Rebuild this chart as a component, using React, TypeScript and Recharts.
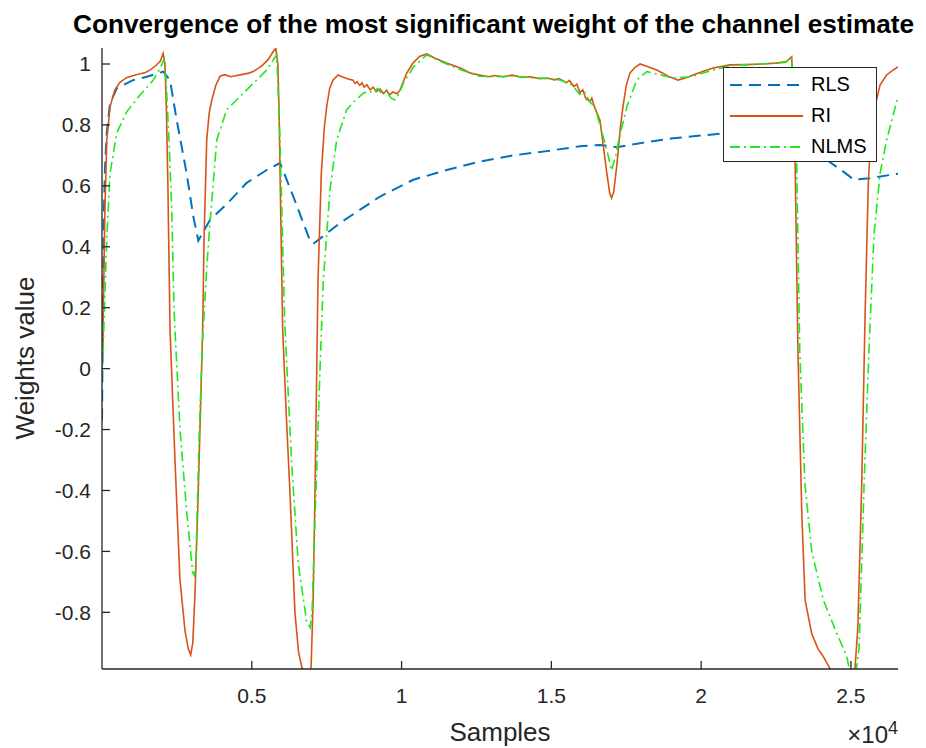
import { LineChart, Line, XAxis, YAxis, Legend } from 'recharts'

// [sample, weight] pairs
const rlsCurve: [number, number][] = [
  [0, -0.17], [30, 0.2], [60, 0.5], [100, 0.66], [157, 0.773], [267, 0.87], [490, 0.92],
  [1035, 0.947], [1492, 0.958], [2046, 0.975], [2270, 0.947], [2493, 0.816], [2827, 0.64],
  [3047, 0.5], [3215, 0.42], [3605, 0.488], [4162, 0.54], [4830, 0.61], [5497, 0.652],
  [5942, 0.675], [6387, 0.565], [6943, 0.42], [7054, 0.41], [7945, 0.478], [9280, 0.565],
  [10392, 0.62], [11506, 0.652], [12618, 0.68], [13731, 0.7], [14844, 0.714], [15956, 0.73],
  [16623, 0.734], [16957, 0.73], [17180, 0.727], [17958, 0.74], [19060, 0.756], [20185, 0.767],
  [21297, 0.778], [22410, 0.788], [23022, 0.795], [23590, 0.74], [24267, 0.68], [24768, 0.645],
  [25102, 0.62], [25636, 0.625], [26570, 0.64],
]

const riCurve: [number, number][] = [
  [0, -0.02], [45, 0.2], [100, 0.53], [160, 0.75], [270, 0.86], [430, 0.915], [600, 0.94],
  [820, 0.955], [1050, 0.962], [1270, 0.968], [1450, 0.972], [1600, 0.98], [1800, 0.995],
  [1950, 1.01], [2040, 1.035], [2100, 1.0], [2150, 0.85], [2200, 0.6], [2270, 0.13],
  [2440, -0.31], [2600, -0.69], [2770, -0.86], [2880, -0.92], [2960, -0.94], [3030, -0.9],
  [3100, -0.75], [3200, -0.45], [3270, -0.2], [3360, 0.13], [3405, 0.42], [3495, 0.75],
  [3580, 0.84], [3660, 0.88], [3800, 0.93], [3940, 0.96], [4100, 0.965], [4300, 0.958],
  [4500, 0.962], [4700, 0.966], [4900, 0.97], [5050, 0.975], [5200, 0.985], [5370, 0.997],
  [5550, 1.015], [5710, 1.04], [5800, 1.052], [5870, 1.0], [5910, 0.85], [5950, 0.6],
  [6030, 0.13], [6150, -0.15], [6280, -0.42], [6440, -0.8], [6560, -0.93], [6670, -0.98],
  [6780, -1.0], [6900, -1.0], [6980, -0.98], [7050, -0.75], [7110, -0.4], [7210, 0.29],
  [7320, 0.64], [7420, 0.79], [7500, 0.86], [7600, 0.92], [7710, 0.947], [7880, 0.964],
  [8000, 0.958], [8100, 0.955], [8250, 0.95], [8380, 0.947], [8450, 0.936], [8520, 0.942],
  [8600, 0.93], [8680, 0.938], [8750, 0.924], [8840, 0.932], [8950, 0.915], [9050, 0.924],
  [9150, 0.909], [9280, 0.918], [9400, 0.903], [9500, 0.914], [9600, 0.899], [9710, 0.908],
  [9850, 0.902], [9950, 0.915], [10070, 0.945], [10170, 0.97], [10380, 1.003], [10600, 1.025],
  [10840, 1.033], [11100, 1.02], [11500, 1.003], [12000, 0.985], [12300, 0.97], [12600, 0.964],
  [12900, 0.958], [13100, 0.962], [13400, 0.958], [13700, 0.964], [14000, 0.956], [14300, 0.958],
  [14600, 0.952], [14850, 0.954], [15100, 0.948], [15250, 0.952], [15400, 0.944], [15500, 0.938],
  [15600, 0.946], [15750, 0.926], [15850, 0.934], [15950, 0.906], [16050, 0.915], [16150, 0.886],
  [16290, 0.877], [16350, 0.888], [16450, 0.856], [16620, 0.816], [16750, 0.72], [16850, 0.642],
  [16950, 0.575], [17010, 0.56], [17080, 0.58], [17180, 0.663], [17300, 0.79], [17390, 0.86],
  [17500, 0.93], [17620, 0.97], [17800, 0.99], [17960, 1.0], [18200, 0.992], [18520, 0.98],
  [18900, 0.96], [19230, 0.947], [19500, 0.955], [19730, 0.964], [20050, 0.975], [20400, 0.987],
  [20960, 0.997], [21500, 0.998], [22000, 1.0], [22500, 1.003], [22850, 1.008], [23020, 1.024],
  [23080, 0.9], [23130, 0.718], [23230, 0.06], [23360, -0.48], [23470, -0.76], [23690, -0.87],
  [23900, -0.92], [24070, -0.944], [24300, -0.985], [24600, -1.01], [24900, -1.02], [25130, -0.99],
  [25230, -0.85], [25360, -0.375], [25470, 0.17], [25580, 0.61], [25640, 0.718], [25800, 0.86],
  [25970, 0.931], [26190, 0.964], [26400, 0.98], [26570, 0.99],
]

const nlmsCurve: [number, number][] = [
  [0, -0.01], [50, 0.1], [100, 0.25], [157, 0.42], [267, 0.64], [490, 0.773], [824, 0.843],
  [1268, 0.898], [1712, 0.947], [1936, 0.985], [2070, 1.015], [2136, 0.95], [2236, 0.75],
  [2326, 0.53], [2403, 0.2], [2440, 0.12], [2604, -0.2], [2827, -0.47], [3027, -0.67],
  [3088, -0.68], [3138, -0.62], [3248, -0.2], [3361, 0.1], [3495, 0.33], [3605, 0.478],
  [3829, 0.75], [4162, 0.85], [4830, 0.915], [5497, 0.98], [5830, 1.03], [5942, 0.75],
  [6100, 0.15], [6330, -0.31], [6550, -0.64], [6830, -0.83], [6950, -0.85], [7010, -0.8],
  [7143, -0.4], [7277, 0.0], [7387, 0.29], [7610, 0.587], [7833, 0.75], [8167, 0.85],
  [8450, 0.88], [8722, 0.904], [8900, 0.912], [9050, 0.905], [9200, 0.92], [9350, 0.9],
  [9500, 0.91], [9650, 0.888], [9780, 0.882], [9900, 0.9], [10060, 0.937], [10390, 0.99],
  [10840, 1.03], [11500, 1.0], [12000, 0.98], [12600, 0.96], [13100, 0.958], [13700, 0.96],
  [14300, 0.955], [14850, 0.952], [15250, 0.948], [15500, 0.94], [15700, 0.93], [15950, 0.9],
  [16100, 0.91], [16290, 0.875], [16450, 0.86], [16620, 0.8], [16850, 0.718], [17010, 0.65],
  [17150, 0.7], [17250, 0.75], [17520, 0.86], [17850, 0.947], [18185, 0.975], [19060, 0.954],
  [19630, 0.958], [20400, 0.98], [21000, 0.995], [22000, 1.0], [22800, 1.005], [23020, 1.02],
  [23100, 0.9], [23180, 0.718], [23290, 0.06], [23460, -0.375], [23690, -0.6], [24080, -0.76],
  [24530, -0.87], [24860, -0.944], [24950, -0.99], [25100, -1.0], [25190, -0.98], [25270, -0.92],
  [25440, -0.375], [25600, 0.06], [25770, 0.44], [25970, 0.64], [26190, 0.75], [26570, 0.893],
]

const xTicks = [5000, 10000, 15000, 20000, 25000]
const xTickLabels = ['0.5', '1', '1.5', '2', '2.5']
const yTicks = [-0.8, -0.6, -0.4, -0.2, 0, 0.2, 0.4, 0.6, 0.8, 1]
const yTickLabels = ['-0.8', '-0.6', '-0.4', '-0.2', '0', '0.2', '0.4', '0.6', '0.8', '1']

const seriesNames = ['RLS', 'RI', 'NLMS']
const seriesColors = ['#0072BD', '#D95319', '#1ee81e']
const seriesDashes = ['12 7', '', '10 4 2 4']

const FONT = '"Liberation Sans", Arial, Helvetica, sans-serif'
const INK = '#262626'
const TICK_LEN = 8
const X_DOMAIN: [number, number] = [0, 26570]
const Y_DOMAIN: [number, number] = [-0.986, 1.0525]

const toPoints = (curve: [number, number][]) => curve.map(([s, v]) => ({ s, v }))
const curves = [rlsCurve, riCurve, nlmsCurve].map(toPoints)

// ticks point inwards like matlab's box axes
const BottomTick = ({ x, y, payload }: any) => (
  <g>
    <line x1={x} x2={x} y1={y} y2={y - TICK_LEN} stroke={INK} strokeWidth={1.3} />
    <text x={x} y={y + 34} textAnchor="middle" fill={INK} fontSize={21} fontFamily={FONT}>
      {xTickLabels[xTicks.indexOf(payload.value)]}
    </text>
  </g>
)
const TopTick = ({ x, y }: any) => (
  <line x1={x} x2={x} y1={y} y2={y + TICK_LEN} stroke={INK} strokeWidth={1.3} />
)
const LeftTick = ({ x, y, payload }: any) => (
  <g>
    <line x1={x} x2={x + TICK_LEN} y1={y} y2={y} stroke={INK} strokeWidth={1.3} />
    <text x={x - 11} y={y + 7.5} textAnchor="end" fill={INK} fontSize={21} fontFamily={FONT}>
      {yTickLabels[yTicks.indexOf(payload.value)]}
    </text>
  </g>
)
const RightTick = ({ x, y }: any) => (
  <line x1={x} x2={x - TICK_LEN} y1={y} y2={y} stroke={INK} strokeWidth={1.3} />
)

const renderLegend = () => (
  <div
    style={{
      boxSizing: 'border-box',
      width: 154,
      height: 95,
      border: `1.3px solid ${INK}`,
      background: '#fff',
      paddingTop: 1,
      fontFamily: FONT,
      fontSize: 20,
      color: '#000',
    }}
  >
    {seriesNames.map((name, i) => (
      <div key={name} style={{ display: 'flex', alignItems: 'center', height: 31 }}>
        <svg width={80} height={10} style={{ display: 'block' }}>
          <line x1={6} x2={79} y1={5} y2={5} stroke={seriesColors[i]} strokeWidth={1.8} strokeDasharray={seriesDashes[i] || undefined} />
        </svg>
        <span style={{ marginLeft: 7 }}>{name}</span>
      </div>
    ))}
  </div>
)

export default function App() {
  return (
    <div style={{ position: 'absolute', left: 0, top: 0, width: 926, height: 748, background: '#fff' }}>
      <LineChart width={926} height={748} margin={{ top: 48, right: 28, bottom: 0, left: 0 }}>
        <XAxis
          xAxisId="bottom"
          dataKey="s"
          type="number"
          domain={X_DOMAIN}
          allowDataOverflow
          ticks={xTicks}
          interval={0}
          height={79}
          tickSize={0}
          tickMargin={0}
          tickLine={false}
          tick={BottomTick}
          axisLine={{ stroke: INK, strokeWidth: 1.3 }}
        />
        <XAxis
          xAxisId="top"
          orientation="top"
          dataKey="s"
          type="number"
          domain={X_DOMAIN}
          allowDataOverflow
          ticks={xTicks}
          interval={0}
          height={0}
          tickSize={0}
          tickMargin={0}
          tickLine={false}
          tick={TopTick}
          axisLine={{ stroke: INK, strokeWidth: 1.3 }}
        />
        <YAxis
          yAxisId="left"
          type="number"
          domain={Y_DOMAIN}
          allowDataOverflow
          ticks={yTicks}
          interval={0}
          width={102}
          tickSize={0}
          tickMargin={0}
          tickLine={false}
          tick={LeftTick}
          axisLine={{ stroke: INK, strokeWidth: 1.3 }}
        />
        <YAxis
          yAxisId="right"
          orientation="right"
          type="number"
          domain={Y_DOMAIN}
          allowDataOverflow
          ticks={yTicks}
          interval={0}
          width={0}
          tickSize={0}
          tickMargin={0}
          tickLine={false}
          tick={RightTick}
          axisLine={{ stroke: INK, strokeWidth: 1.3 }}
        />
        {curves.map((data, i) => (
          <Line
            key={seriesNames[i]}
            xAxisId="bottom"
            yAxisId="left"
            data={data}
            dataKey="v"
            name={seriesNames[i]}
            stroke={seriesColors[i]}
            strokeWidth={i === 0 ? 2 : 1.6}
            strokeDasharray={seriesDashes[i] || undefined}
            dot={false}
            activeDot={false}
            isAnimationActive={false}
          />
        ))}
        <Legend
          layout="vertical"
          align="center"
          verticalAlign="middle"
          content={renderLegend}
          wrapperStyle={{ left: 723, top: 67, width: 154, height: 95 }}
        />
        <text x={73} y={33} fontFamily={FONT} fontSize={26.2} fontWeight="bold" fill="#000">
          Convergence of the most significant weight of the channel estimate
        </text>
        <text x={500} y={741} textAnchor="middle" fontFamily={FONT} fontSize={26} fill={INK}>
          Samples
        </text>
        <text x={898} y={743} textAnchor="end" fontFamily={FONT} fontSize={24} fill={INK}>
          ×10<tspan fontSize={18} dy={-9}>4</tspan>
        </text>
        <text
          x={34}
          y={358}
          transform="rotate(-90 34 358)"
          textAnchor="middle"
          fontFamily={FONT}
          fontSize={26}
          fill={INK}
        >
          Weights value
        </text>
      </LineChart>
    </div>
  )
}
